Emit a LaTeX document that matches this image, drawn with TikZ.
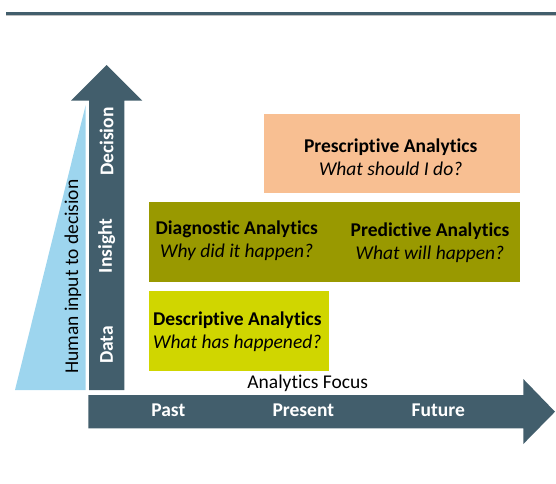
\documentclass[tikz,border=0pt]{standalone}
\usepackage{fontspec}
\setmainfont{Carlito}[Ligatures=NoCommon]
\definecolor{slate}{RGB}{66,94,108}
\definecolor{skyblue}{RGB}{157,213,238}
\definecolor{peach}{RGB}{248,191,146}
\definecolor{olive}{RGB}{153,153,0}
\definecolor{lime}{RGB}{208,214,0}

\begin{document}
\begin{tikzpicture}[x=1pt,y=-1pt,
    txt/.style={font=\fontsize{19.5}{23}\selectfont,inner sep=0pt},
    lbl/.style={txt,font=\fontsize{19.5}{23}\selectfont\bfseries,text=white},
    field/.style={anchor=north west,inner sep=0pt},
    kind/.style={txt,align=center}]
    \useasboundingbox(0,0)rectangle(556,483);
    \draw[gray!50,line width=4pt](6,13.5)--(556,13.5);
    \draw[slate,line width=2.6pt](6,13.5)--(556,13.5);

    \fill[skyblue](15,390)--(85.7,105)--(85.7,390)--cycle;
    \fill[slate](89,390)--(89,100.7)--(71,100.7)--(106.7,65)--(142.3,100.7)--(124.3,100.7)--(124.3,390)--cycle;
    \fill[slate](88.3,395)--(523.3,395)--(523.3,379)--(555,411.7)--(523.3,444)--(523.3,428.3)--(88.3,428.3)--cycle;

    \node[txt,rotate=90](human)at(73,276.7){Human input to decision};
    \node[lbl,rotate=90](data)at(106.7,345){Data};
    \node[lbl,rotate=90](insight)at(106.7,245.8){Insight};
    \node[lbl,rotate=90](decision)at(106.7,141.7){Decision};

    \node[lbl](past)at(168.3,410){Past};
    \node[lbl](present)at(303.3,410){Present};
    \node[lbl](future)at(438.3,410){Future};
    \node[txt](focus)at(307.7,383.3){Analytics Focus};

    \node[field,fill=peach,minimum width=256pt,minimum height=79pt](presc)at(263.3,113.3){};
    \node[field,fill=olive,minimum width=371pt,minimum height=80pt](mid)at(148.3,201.7){};
    \node[field,fill=lime,minimum width=180.7pt,minimum height=79.7pt](desc)at(148.3,291){};

    \node[kind](prescT)at(390.7,157){\textbf{Prescriptive Analytics}\\\textit{What should I do?}};
    \node[kind](diagT)at(236.7,241){\textbf{Diagnostic Analytics}\\\textit{Why did it happen?}};
    \node[kind](predT)at(430,242.7){\textbf{Predictive Analytics}\\\textit{What will happen?}};
    \node[kind](descT)at(237.3,332){\textbf{Descriptive Analytics}\\\textit{What has happened?}};
\end{tikzpicture}
\end{document}
